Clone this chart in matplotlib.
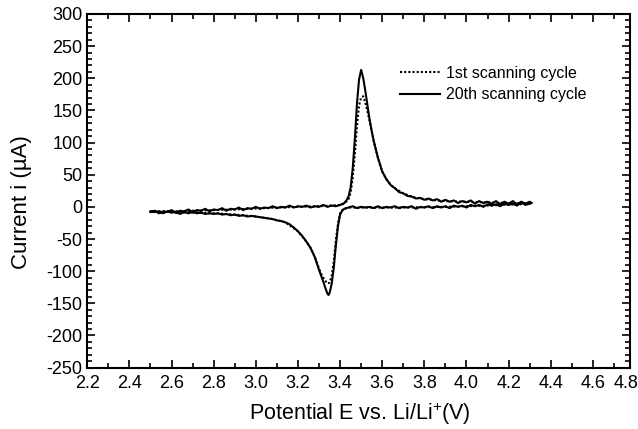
import matplotlib
matplotlib.use("Agg")
import matplotlib.pyplot as plt
import matplotlib.transforms as mtransforms
from matplotlib.ticker import MultipleLocator, FixedLocator

plt.rcParams['font.family'] = ['Liberation Sans', 'DejaVu Sans']
plt.rcParams['axes.unicode_minus'] = False
plt.rcParams['mathtext.fontset'] = 'custom'
plt.rcParams['mathtext.rm'] = 'Liberation Sans'

# ---- 20th scanning cycle: anodic (forward) branch ----
E20_fwd = [2.50, 2.52, 2.54, 2.56, 2.58, 2.60, 2.62, 2.64, 2.66, 2.68, 2.70, 2.72, 2.74, 2.76,
           2.78, 2.80, 2.82, 2.84, 2.86, 2.88, 2.90, 2.92, 2.94, 2.96, 2.98, 3.00, 3.02, 3.04,
           3.06, 3.08, 3.10, 3.12, 3.14, 3.16, 3.18, 3.20, 3.22, 3.24, 3.26, 3.28, 3.30, 3.32,
           3.34, 3.36, 3.38, 3.40, 3.42, 3.43, 3.44, 3.45, 3.46, 3.47, 3.48, 3.49, 3.50, 3.51,
           3.52, 3.53, 3.54, 3.55, 3.56, 3.58, 3.60, 3.62, 3.64, 3.66, 3.68, 3.70, 3.72, 3.74,
           3.76, 3.78, 3.80, 3.82, 3.84, 3.86, 3.88, 3.90, 3.92, 3.94, 3.96, 3.98, 4.00, 4.02,
           4.04, 4.06, 4.08, 4.10, 4.12, 4.14, 4.16, 4.18, 4.20, 4.22, 4.24, 4.26, 4.28, 4.30, 4.31]
I20_fwd = [-8, -6, -10, -7, -8, -5, -9, -6, -7, -4, -8, -5, -6, -3, -7, -4, -5, -2, -6, -3,
           -4, -1, -5, -2, -3, 0, -3, -1, -2, 1, -2, 0, -1, 2, -1, 1, 0, 2, -1, 1, 0, 3, 0, 2,
           1, 3, 6, 10, 16, 30, 60, 105, 160, 198, 213, 200, 180, 158, 136, 118, 102, 76, 55,
           43, 34, 29, 23, 21, 17, 16, 13, 14, 11, 13, 10, 12, 8, 11, 8, 10, 6, 9, 7, 10, 5,
           9, 6, 8, 5, 9, 4, 8, 5, 9, 4, 8, 5, 8, 6]

# ---- 20th scanning cycle: cathodic (reverse) branch ----
E20_rev = [4.31, 4.28, 4.26, 4.24, 4.22, 4.20, 4.18, 4.16, 4.14, 4.12, 4.10, 4.08, 4.06, 4.04,
           4.02, 4.00, 3.98, 3.96, 3.94, 3.92, 3.90, 3.88, 3.86, 3.84, 3.82, 3.80, 3.78, 3.76,
           3.74, 3.72, 3.70, 3.68, 3.66, 3.64, 3.62, 3.60, 3.58, 3.56, 3.54, 3.52, 3.50, 3.48,
           3.46, 3.44, 3.42, 3.41, 3.40, 3.39, 3.38, 3.37, 3.36, 3.35, 3.345, 3.34, 3.33, 3.32,
           3.31, 3.30, 3.28, 3.26, 3.24, 3.22, 3.20, 3.18, 3.16, 3.14, 3.12, 3.10, 3.08, 3.06,
           3.04, 3.02, 3.00, 2.98, 2.96, 2.94, 2.92, 2.90, 2.88, 2.86, 2.84, 2.82, 2.80, 2.78,
           2.76, 2.74, 2.72, 2.70, 2.68, 2.66, 2.64, 2.62, 2.60, 2.58, 2.56, 2.54, 2.52, 2.50]
I20_rev = [6, 3, 7, 2, 5, 3, 5, 1, 4, 2, 4, 0, 3, 1, 3, -1, 2, 0, 2, -2, 1, -1, 1, -2, 1, -1,
           0, -3, 1, -1, 0, -2, 1, -1, 0, -2, 1, -2, 0, -1, 0, -2, 1, -1, -3, -6, -12, -30, -60,
           -95, -120, -134, -137, -135, -126, -116, -107, -98, -78, -64, -54, -45, -38, -32, -27,
           -24, -22, -21, -19, -18, -17, -16, -15, -14, -15, -13, -14, -12, -13, -11, -12, -10,
           -11, -10, -11, -9, -10, -8, -10, -8, -11, -8, -9, -7, -10, -7, -8, -7]

# ---- 1st scanning cycle ----
E1_fwd = [2.50, 2.70, 2.90, 3.10, 3.30, 3.40, 3.42, 3.44, 3.45, 3.46, 3.47, 3.48, 3.49, 3.50,
          3.51, 3.52, 3.53, 3.54, 3.55, 3.56, 3.58, 3.60, 3.62, 3.64, 3.66, 3.70, 3.75, 3.80,
          3.90, 4.00, 4.10, 4.20, 4.31]
I1_fwd = [-8, -6, -4, -1, 1, 3, 5, 12, 22, 45, 82, 125, 158, 170, 172, 162, 148, 134, 118,
          102, 76, 55, 43, 34, 29, 21, 15, 12, 9, 8, 7, 6, 6]
E1_rev = [4.31, 4.10, 3.90, 3.70, 3.50, 3.44, 3.42, 3.41, 3.40, 3.39, 3.38, 3.37, 3.36, 3.35,
          3.34, 3.33, 3.32, 3.31, 3.30, 3.28, 3.26, 3.24, 3.20, 3.14, 3.08, 3.00, 2.90, 2.80,
          2.70, 2.60, 2.50]
I1_rev = [5, 2, 0, -1, -1, -1, -3, -5, -10, -26, -52, -85, -108, -118, -119, -115, -110, -104,
          -96, -78, -64, -54, -38, -24, -19, -15, -12, -10, -9, -8, -7]

legend_labels = ["1st scanning cycle", "20th scanning cycle"]
x_ticks = [2.2, 2.4, 2.6, 2.8, 3.0, 3.2, 3.4, 3.6, 3.8, 4.0, 4.2, 4.4, 4.6]
x_ticklabels = ["2.2", "2.4", "2.6", "2.8", "3.0", "3.2", "3.4", "3.6", "3.8", "4.0", "4.2",
                "4.4", "4.6"]
last_x_label = "4.8"
x_label = r"Potential E vs. Li/Li$^{+}$(V)"
y_label = "Current i (\u00b5A)"

fig = plt.figure(figsize=(6.38, 4.29), dpi=100)
ax = fig.add_axes([0.1368, 0.143, 0.8506, 0.8245])

ax.plot(E1_fwd + E1_rev, I1_fwd + I1_rev, color='black', lw=1.5, ls=(0, (1.0, 1.0)),
        label=legend_labels[0])
ax.plot(E20_fwd + E20_rev, I20_fwd + I20_rev, color='black', lw=1.5, ls='-',
        label=legend_labels[1])

ax.set_xlim(2.2, 4.776)
ax.set_ylim(-250, 300)
ax.xaxis.set_major_locator(FixedLocator(x_ticks))
ax.set_xticklabels(x_ticklabels)
ax.xaxis.set_minor_locator(MultipleLocator(0.1))
ax.yaxis.set_major_locator(MultipleLocator(50))
ax.yaxis.set_minor_locator(MultipleLocator(10))
ax.tick_params(which='both', direction='in', top=True, right=True, width=1.2,
               labelsize=13, colors='black')
ax.tick_params(which='major', length=6)
ax.tick_params(which='minor', length=3.5)
ax.tick_params(axis='x', which='major', pad=5)
ax.tick_params(axis='y', which='major', pad=3.5)
for s in ax.spines.values():
    s.set_linewidth(1.5)

# the last x label sits at the right edge, just inside the plot's end
trans = mtransforms.blended_transform_factory(ax.transData, ax.transAxes)
ax.annotate(last_x_label, xy=(4.757, 0), xycoords=trans, xytext=(0, -5),
            textcoords='offset points', ha='center', va='top', fontsize=13)

ax.set_xlabel(x_label, fontsize=15.5)
ax.set_ylabel(y_label, fontsize=16)
ax.xaxis.set_label_coords(0.5025, -0.094)
ax.yaxis.set_label_coords(-0.102, 0.467)

ax.legend(loc='upper left', bbox_to_anchor=(0.576, 0.854), frameon=False, fontsize=11.5,
          handlelength=2.5, handletextpad=0.4, labelspacing=0.43, borderpad=0,
          borderaxespad=0)

fig.savefig("out.png", dpi=100)
